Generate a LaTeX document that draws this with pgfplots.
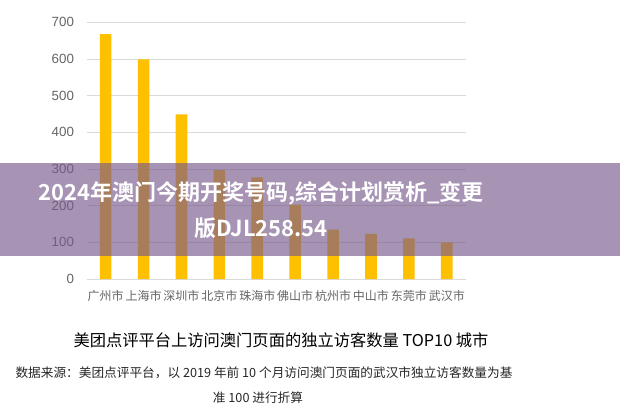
\documentclass[border=0pt]{standalone}
\usepackage{pgfplots}
\pgfplotsset{compat=1.18}
\usepackage{fontspec}
\setmainfont{Liberation Sans}
\newfontfamily\cjk{Noto Sans CJK SC}[BoldFont={Noto Sans CJK SC Bold}]
\definecolor{baryellow}{RGB}{255,192,0}
\definecolor{gridgray}{RGB}{217,217,217}
\definecolor{ticktext}{RGB}{100,100,100}
\definecolor{band}{RGB}{120,90,140}
\begin{document}
\begin{tikzpicture}[x=0.75pt,y=-0.75pt]
\path (0,0) rectangle (620,420);
\begin{axis}[
  at={(65.025pt,-209.25pt)}, anchor=south west,
  width=284.25pt, height=192.5pt, scale only axis,
  xmin=-0.5, xmax=9.5, ymin=0, ymax=700,
  ytick={0,100,...,700},
  xtick={0,...,9},
  xticklabels={广州市,上海市,深圳市,北京市,珠海市,佛山市,杭州市,中山市,东莞市,武汉市},
  xticklabel style={font=\cjk\fontsize{9}{11}\selectfont, text=ticktext, yshift=-5pt},
  yticklabel style={font=\fontsize{10}{12}\selectfont, text=ticktext, xshift=-6pt},
  /pgf/number format/assume math mode=true,
  axis line style={draw=none},
  major tick length=0pt,
  ymajorgrids, grid style={gridgray, line width=0.75pt},
  ybar, bar width=8.7pt,
]
\addplot[fill=baryellow, draw=none] coordinates {
(0,668) (1,599) (2,449) (3,297) (4,277) (5,203) (6,135) (7,123) (8,111) (9,100)};
\end{axis}
\fill[band, opacity=0.65] (0,162.7) rectangle (620,256);
\node[text=white, font=\cjk\bfseries\fontsize{16.5}{20}\selectfont] at (261,193) {2024年澳门今期开奖号码,综合计划赏析\_变更};
\node[text=white, font=\cjk\bfseries\fontsize{16.5}{20}\selectfont] at (261,228) {版DJL258.54};
\node[font=\cjk\fontsize{12.2}{14}\selectfont] at (281,340) {美团点评平台上访问澳门页面的独立访客数量 TOP10 城市};
\node[font=\cjk\fontsize{9.5}{11}\selectfont, text=black!85] at (264,373) {数据来源：美团点评平台，以 2019 年前 10 个月访问澳门页面的武汉市独立访客数量为基};
\node[font=\cjk\fontsize{9.5}{11}\selectfont, text=black!85] at (258,398) {准 100 进行折算};
\end{tikzpicture}
\end{document}
